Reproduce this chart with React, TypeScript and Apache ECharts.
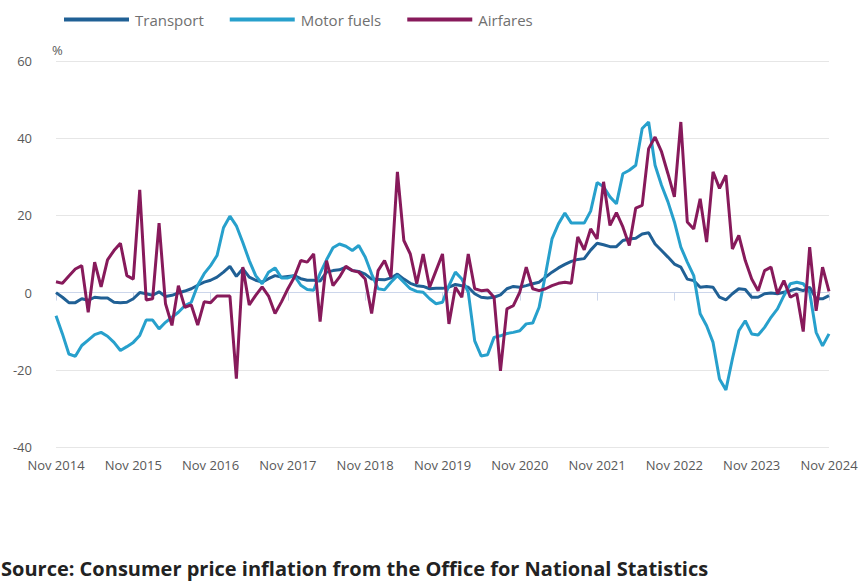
import React, { useEffect, useRef } from "react";
import * as echarts from "echarts";

const monthNames = ["Jan", "Feb", "Mar", "Apr", "May", "Jun", "Jul", "Aug", "Sep", "Oct", "Nov", "Dec"];
const startYear = 2014;
const startMonth = 10; // Nov
const monthCount = 121;
const categories: string[] = Array.from({ length: monthCount }, (_, k) => {
  const m = startMonth + k;
  return `${monthNames[m % 12]} ${startYear + Math.floor(m / 12)}`;
});

const yTicks = { min: -40, max: 60, interval: 20 };

const transport = [
  0, -1.2, -2.6, -2.6, -1.6, -2, -1.2, -1.4, -1.4, -2.5, -2.6, -2.5,
  -1.6, 0, -0.3, -0.7, 0.2, -1, -0.7, -0.1, 0.4, 1, 1.9, 2.7,
  3.2, 4, 5.3, 6.8, 4.2, 6.2, 4, 3.2, 2.7, 3.6, 4.4, 4,
  4.2, 4.4, 3.6, 3.2, 3.2, 3, 5.3, 5.7, 5.9, 6.6, 5.7, 5.5,
  4.8, 3.5, 3.4, 3.3, 3.8, 4.8, 3.5, 2.4, 1.8, 1.6, 1, 1.1,
  1.1, 1.4, 2.1, 1.8, 1.4, -0.3, -1.2, -1.4, -1.2, -0.6, 1, 1.6,
  1.4, 1.8, 2.3, 2.7, 4, 5.3, 6.4, 7.3, 8.1, 8.6, 8.8, 11,
  12.8, 12.4, 11.9, 11.9, 13.5, 13.9, 14.1, 15.2, 15.5, 12.6, 10.9, 9.2,
  7.4, 6.6, 3.5, 3.1, 1.4, 1.6, 1.4, -1.2, -1.9, -0.3, 1, 0.8,
  -1.2, -1.2, -0.3, -0.1, -0.3, 0.1, 0.5, 1, 0.5, 1.4, -1.6, -1.6,
  -0.8,
];

const motorFuels = [
  -6, -10.7, -15.9, -16.5, -13.7, -12.3, -10.9, -10.3, -11.3, -12.9, -15, -14,
  -12.9, -11.1, -7.1, -7.1, -9.4, -7.7, -6.4, -5.1, -3.4, -2.5, 1.9, 4.9,
  7, 9.6, 16.8, 19.8, 17.3, 13, 8.3, 4.4, 2.3, 5.3, 6.4, 3.8,
  3.8, 4.4, 1.9, 0.8, 0.6, 5, 8.5, 11.6, 12.6, 12, 10.9, 12.2,
  9.2, 4.8, 1, 0.7, 2.7, 4.4, 2.7, 1, 0.3, 0.1, -1.6, -2.9,
  -2.5, 1.8, 5.3, 3.5, 0.1, -12.5, -16.4, -16.1, -11.6, -11.2, -10.6, -10.3,
  -9.9, -8.1, -7.9, -3.8, 4.8, 13.9, 17.8, 20.6, 18, 18, 18, 21.1,
  28.5, 27.4, 24.8, 23, 30.8, 31.7, 33, 42.5, 44.2, 33, 27.8, 23.5,
  18.3, 11.8, 7.9, 4.4, -5.5, -8.6, -12.9, -22.4, -25.2, -17.2, -9.9, -7.3,
  -10.7, -11, -9, -6.4, -4.2, -0.8, 2.3, 2.7, 2.3, 0.1, -10.3, -13.8,
  -10.7,
];

const airfares = [
  2.8, 2.4, 4.3, 6.1, 7, -5.1, 7.9, 1.5, 8.5, 10.9, 12.8, 4.4,
  3.5, 26.6, -1.9, -1.6, 18, -2.9, -8.5, 1.8, -3.8, -3.2, -8.4, -2.4,
  -2.6, -0.9, -0.9, -0.9, -22.3, 6.6, -3.2, -0.7, 1.5, -0.9, -5.4, -2.4,
  1, 4, 8.3, 7.9, 10, -7.5, 8.3, 1.8, 4, 6.8, 5.7, 5.3,
  3.5, -5.4, 5.7, 8.3, 4, 31.3, 13.5, 10, 2.3, 10, 1.4, 5.7,
  10, -8.1, 1.4, -1.2, 10, 1, 0.5, 0.7, -1.2, -20.3, -4.2, -3.4,
  0.1, 6.6, 1, 0.5, 1, 1.8, 2.4, 2.7, 2.4, 14.4, 11.1, 16.5,
  13.9, 28.7, 17.4, 20.7, 17, 12.2, 21.9, 22.6, 37.3, 40.3, 36.5, 30.8,
  24.8, 44.2, 18.3, 16.5, 24.3, 13.1, 31.3, 27, 30.4, 11.3, 14.8, 8.3,
  3.5, 0.5, 5.7, 6.6, -0.3, 3.1, -1.2, -0.3, -10.1, 11.8, -4.7, 6.6,
  0.3,
];

const seriesNames = ["Transport", "Motor fuels", "Airfares"];
const seriesColors = ["#206095", "#27a0cc", "#871a5b"];
const seriesData = [transport, motorFuels, airfares];
const sourceText = "Source: Consumer price inflation from the Office for National Statistics";

const FONT = "'Open Sans', 'Noto Sans', sans-serif";

export default function App() {
  const ref = useRef<HTMLDivElement>(null);
  useEffect(() => {
    if (!ref.current) return;
    const chart = echarts.init(ref.current, null, { renderer: "svg" });
    chart.setOption({
      animation: false,
      backgroundColor: "#ffffff",
      textStyle: { fontFamily: FONT },
      legend: {
        left: 59,
        top: 7,
        icon: "rect",
        itemWidth: 65,
        itemHeight: 4,
        itemGap: 26,
        textStyle: { fontSize: 15, color: "#707070", fontFamily: FONT, padding: [0, 0, 0, 1] },
        data: seriesNames,
      },
      grid: { left: 56, right: 35, top: 61, bottom: 136, containLabel: false },
      xAxis: {
        type: "category",
        data: categories,
        boundaryGap: false,
        axisLine: { show: true, lineStyle: { color: "#ccd6eb", width: 1 } },
        axisTick: { show: true, interval: 11, length: 8, lineStyle: { color: "#ccd6eb" } },
        axisLabel: {
          interval: 11,
          color: "#595959",
          fontSize: 13,
          fontFamily: FONT,
          margin: 11,
        },
        splitLine: { show: false },
      },
      yAxis: {
        type: "value",
        min: yTicks.min,
        max: yTicks.max,
        interval: yTicks.interval,
        name: "%",
        nameLocation: "end",
        nameGap: 5,
        nameTextStyle: { color: "#595959", fontSize: 13, fontFamily: FONT, align: "left", padding: [0, 0, 0, -4] },
        axisLine: { show: false },
        axisTick: { show: false },
        axisLabel: { color: "#595959", fontSize: 13, fontFamily: FONT, margin: 24 },
        splitLine: { show: true, lineStyle: { color: "#e6e6e6", width: 1 } },
      },
      series: seriesNames.map((name, k) => ({
        name,
        type: "line",
        data: seriesData[k],
        showSymbol: false,
        symbol: "none",
        color: seriesColors[k],
        lineStyle: { width: 3, color: seriesColors[k] },
        z: 2 + k,
      })),
      graphic: [
        {
          type: "text",
          left: 1,
          top: 558,
          style: {
            text: sourceText,
            font: `bold 20px ${FONT}`,
            fill: "#222222",
          },
        },
      ],
    });
    return () => chart.dispose();
  }, []);
  return <div ref={ref} style={{ width: 864, height: 583, position: "absolute", left: 0, top: 0 }} />;
}
